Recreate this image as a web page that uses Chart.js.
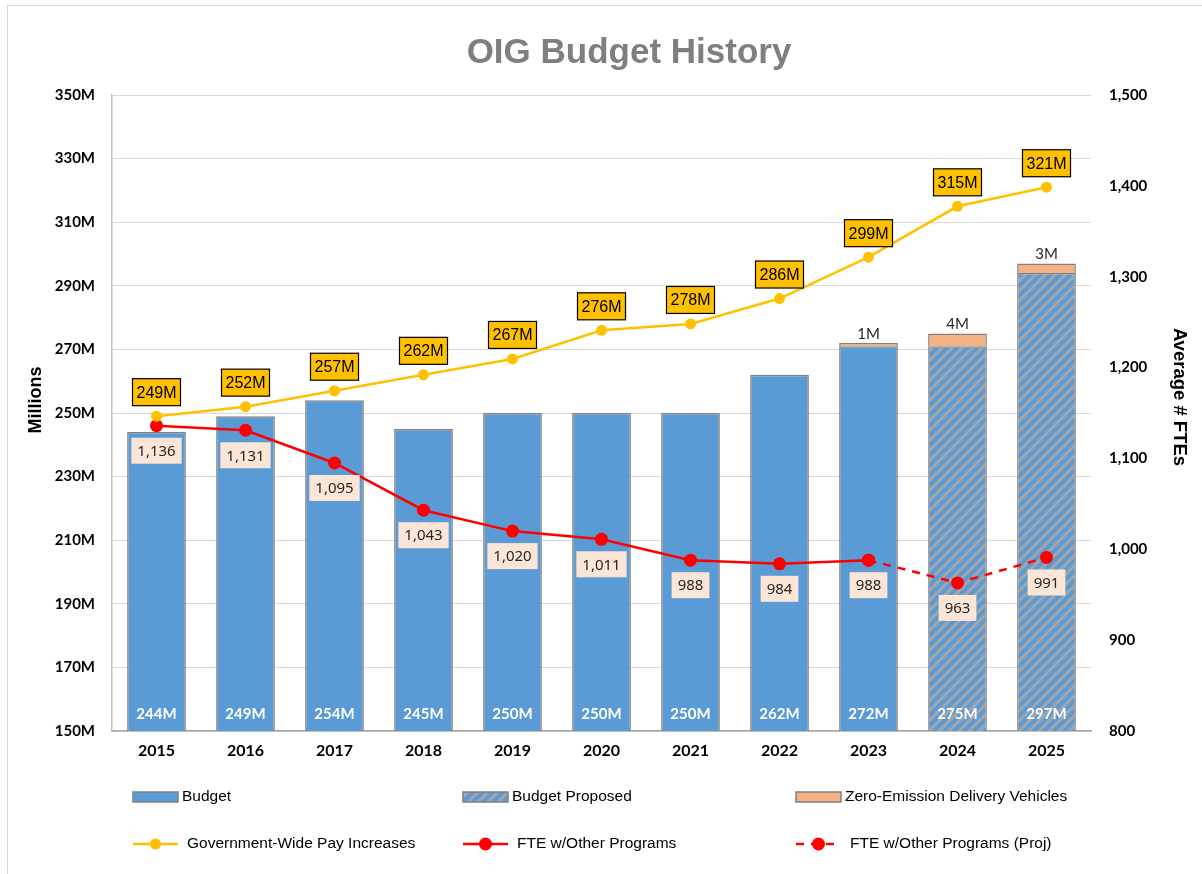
<!DOCTYPE html>
<html>
<head>
<meta charset="utf-8">
<script src="https://cdn.jsdelivr.net/npm/chart.js@4.4.1/dist/chart.umd.min.js"></script>
<style>
  html, body { margin: 0; padding: 0; background: #ffffff; }
  #wrap { position: relative; width: 1202px; height: 874px; }
  canvas { display: block; }
</style>
</head>
<body>
<div id="wrap"><canvas id="c" width="1202" height="874"></canvas></div>
<script>
// ---- Data ----
const chartTitle = 'OIG Budget History';
const categories = ['2015','2016','2017','2018','2019','2020','2021','2022','2023','2024','2025'];
const budget = [244, 249, 254, 245, 250, 250, 250, 262, 271, null, null];
const budgetProposed = [null, null, null, null, null, null, null, null, null, 271, 294];
const zeroEmission = [null, null, null, null, null, null, null, null, 1, 4, 3];
const payIncreases = [249, 252, 257, 262, 267, 276, 278, 286, 299, 315, 321];
const fteOther = [1136, 1131, 1095, 1043, 1020, 1011, 988, 984, 988, null, null];
const fteOtherProj = [null, null, null, null, null, null, null, null, 988, 963, 991];
const leftAxis = { min: 150, max: 350, step: 20, title: 'Millions' };
const rightAxis = { min: 800, max: 1500, step: 100, title: 'Average # FTEs' };

// ---- Styles ----
const BLUE = '#5B9BD5';
const BAR_BORDER = '#808080';
const GOLD = '#FFC000';
const RED = '#FF0000';
const PEACH = '#F4B183';
const LABEL_BG = '#FBE5D6';

function makeHatch() {
  const s = 10;
  const c = document.createElement('canvas');
  c.width = s; c.height = s;
  const g = c.getContext('2d');
  g.fillStyle = BLUE;
  g.fillRect(0, 0, s, s);
  g.strokeStyle = '#A5A5A5';
  g.lineWidth = 3;
  g.beginPath();
  g.moveTo(-2, s + 2); g.lineTo(s + 2, -2);
  g.moveTo(-2, 2); g.lineTo(2, -2);
  g.moveTo(s - 2, s + 2); g.lineTo(s + 2, s - 2);
  g.stroke();
  return document.getElementById('c').getContext('2d').createPattern(c, 'repeat');
}
const hatch = makeHatch();

const totals = categories.map((_, i) => (budget[i] || 0) + (budgetProposed[i] || 0) + (zeroEmission[i] || 0));

const labelPlugin = {
  id: 'labels',
  afterDatasetsDraw(chart) {
    const ctx = chart.ctx;
    const xs = chart.scales.x, ys = chart.scales.y, y1 = chart.scales.y1;
    ctx.save();
    ctx.textAlign = 'center';
    ctx.textBaseline = 'middle';
    // totals inside bar bottoms
    ctx.font = 'bold 15px Lato, "Noto Sans", sans-serif';
    ctx.fillStyle = '#ffffff';
    totals.forEach((t, i) => {
      ctx.fillText(t + 'M', xs.getPixelForValue(i), 714);
    });
    // zero-emission labels above stacks
    ctx.font = '15px Lato, "Noto Sans", sans-serif';
    ctx.fillStyle = '#262626';
    zeroEmission.forEach((v, i) => {
      if (v == null) return;
      const top = ys.getPixelForValue(totals[i]);
      ctx.fillText(v + 'M', xs.getPixelForValue(i), top - 9);
    });
    // pay increase labels
    ctx.font = '16px "Liberation Sans", Arial, sans-serif';
    payIncreases.forEach((v, i) => {
      const x = xs.getPixelForValue(i);
      const y = ys.getPixelForValue(v) - 24;
      const txt = v + 'M';
      const w = ctx.measureText(txt).width + 8;
      const h = 27;
      ctx.fillStyle = GOLD;
      ctx.fillRect(x - w / 2, y - h / 2, w, h);
      ctx.strokeStyle = '#000000';
      ctx.lineWidth = 1.2;
      ctx.strokeRect(x - w / 2, y - h / 2, w, h);
      ctx.fillStyle = '#000000';
      ctx.fillText(txt, x, y + 1);
    });
    // FTE labels
    ctx.font = '15px "Noto Sans", "Open Sans", sans-serif';
    const drawFte = (v, i) => {
      const x = xs.getPixelForValue(i);
      const y = y1.getPixelForValue(v) + 25;
      const txt = v.toLocaleString('en-US');
      const w = ctx.measureText(txt).width + 12;
      const h = 26;
      ctx.fillStyle = LABEL_BG;
      ctx.fillRect(x - w / 2, y - h / 2, w, h);
      ctx.fillStyle = '#262626';
      ctx.fillText(txt, x, y + 1);
    };
    fteOther.forEach((v, i) => { if (v != null) drawFte(v, i); });
    fteOtherProj.forEach((v, i) => { if (v != null && fteOther[i] == null) drawFte(v, i); });
    ctx.restore();
  },
  afterDraw(chart) {
    const ctx = chart.ctx;
    ctx.save();
    // outer frame
    ctx.strokeStyle = '#D9D9D9';
    ctx.lineWidth = 1;
    ctx.strokeRect(7.5, 5.5, 1300, 1000);
    // title
    ctx.textAlign = 'center';
    ctx.textBaseline = 'middle';
    ctx.fillStyle = '#7F7F7F';
    ctx.font = 'bold 35px "Liberation Sans", Arial, sans-serif';
    ctx.fillText(chartTitle, 629, 53);
    // axis titles
    ctx.fillStyle = '#000000';
    ctx.font = 'bold 18px "Liberation Sans", Arial, sans-serif';
    ctx.save();
    ctx.translate(36, 400);
    ctx.rotate(-Math.PI / 2);
    ctx.fillText(leftAxis.title, 0, 0);
    ctx.restore();
    ctx.save();
    ctx.translate(1179, 397);
    ctx.rotate(Math.PI / 2);
    ctx.font = 'bold 18.5px "Liberation Sans", Arial, sans-serif';
    ctx.fillText(rightAxis.title, 0, 0);
    ctx.restore();
    // legend
    const ds = chart.data.datasets;
    const cols = [133, 463, 796];
    const rows = [797, 844];
    const items = [
      { d: ds[2], kind: 'box', col: 0, row: 0 },
      { d: ds[3], kind: 'box', col: 1, row: 0 },
      { d: ds[4], kind: 'box', col: 2, row: 0 },
      { d: ds[0], kind: 'line', col: 0, row: 1 },
      { d: ds[1], kind: 'line', col: 1, row: 1 },
      { d: ds[5], kind: 'line', col: 2, row: 1 },
    ];
    ctx.textAlign = 'left';
    ctx.font = '15.5px "Liberation Sans Narrow", "Liberation Sans", Arial, sans-serif';
    items.forEach(it => {
      const x = cols[it.col], y = rows[it.row];
      if (it.kind === 'box') {
        ctx.fillStyle = it.d.backgroundColor;
        ctx.fillRect(x, y - 5, 45, 10);
        ctx.strokeStyle = BAR_BORDER;
        ctx.lineWidth = 1.5;
        ctx.strokeRect(x, y - 5, 45, 10);
        ctx.fillStyle = '#000000';
        ctx.fillText(it.d.label, x + 49, y);
      } else {
        ctx.strokeStyle = it.d.borderColor;
        ctx.lineWidth = 2.5;
        ctx.setLineDash(it.d.borderDash || []);
        ctx.beginPath();
        ctx.moveTo(x, y); ctx.lineTo(x + 45, y);
        ctx.stroke();
        ctx.setLineDash([]);
        ctx.fillStyle = it.d.pointBackgroundColor;
        ctx.beginPath();
        ctx.arc(x + 22.5, y, it.d.pointRadius, 0, Math.PI * 2);
        ctx.fill();
        ctx.fillStyle = '#000000';
        ctx.fillText(it.d.label, x + 54, y);
      }
    });
    ctx.restore();
  }
};

new Chart(document.getElementById('c'), {
  type: 'bar',
  data: {
    labels: categories,
    datasets: [
      { type: 'line', label: 'Government-Wide Pay Increases', data: payIncreases, yAxisID: 'y', stack: 'pay',
        borderColor: GOLD, backgroundColor: GOLD, borderWidth: 2.5, pointRadius: 5.5, pointBackgroundColor: GOLD,
        pointBorderWidth: 0, tension: 0, order: 0 },
      { type: 'line', label: 'FTE w/Other Programs', data: fteOther, yAxisID: 'y1',
        borderColor: RED, backgroundColor: RED, borderWidth: 2.5, pointRadius: 6.5, pointBackgroundColor: RED,
        pointBorderWidth: 0, tension: 0, order: 0 },
      { label: 'Budget', data: budget, yAxisID: 'y', stack: 'b', backgroundColor: BLUE,
        borderColor: BAR_BORDER, borderWidth: 1.5, order: 2 },
      { label: 'Budget Proposed', data: budgetProposed, yAxisID: 'y', stack: 'b', backgroundColor: hatch,
        borderColor: BAR_BORDER, borderWidth: 1.5, order: 2 },
      { label: 'Zero-Emission Delivery Vehicles', data: zeroEmission, yAxisID: 'y', stack: 'b', backgroundColor: PEACH,
        borderColor: BAR_BORDER, borderWidth: 1.5, order: 2 },
      { type: 'line', label: 'FTE w/Other Programs (Proj)', data: fteOtherProj, yAxisID: 'y1',
        borderColor: RED, backgroundColor: RED, borderWidth: 2.5, borderDash: [8, 7], pointRadius: 6.5,
        pointBackgroundColor: RED, pointBorderWidth: 0, tension: 0, order: 1 }
    ]
  },
  options: {
    responsive: false,
    animation: false,
    devicePixelRatio: 1,
    layout: { padding: { top: 95, left: 0, right: 0, bottom: 0 } },
    datasets: { bar: { barPercentage: 0.66, categoryPercentage: 1.0 } },
    plugins: { legend: { display: false }, title: { display: false }, tooltip: { enabled: false } },
    scales: {
      x: {
        stacked: true,
        grid: { display: false, drawTicks: false },
        border: { display: true, color: '#A6A6A6', width: 1.5 },
        ticks: { color: '#000000', padding: 10, font: { family: 'Lato, "Noto Sans", sans-serif', size: 16, weight: 'bold' } },
        afterFit(s) { s.height = 874 - 731; }
      },
      y: {
        position: 'left',
        stacked: true,
        min: leftAxis.min, max: leftAxis.max,
        grid: { color: '#D9D9D9', drawTicks: false, lineWidth: 1 },
        border: { display: true, color: '#BFBFBF', width: 1.5 },
        ticks: { stepSize: leftAxis.step, color: '#000000', padding: 17,
          font: { family: 'Lato, "Noto Sans", sans-serif', size: 15, weight: 'bold' },
          callback: v => v + 'M' },
        afterFit(s) { s.width = 112; }
      },
      y1: {
        position: 'right',
        min: rightAxis.min, max: rightAxis.max,
        grid: { display: false, drawTicks: false },
        border: { display: false },
        ticks: { stepSize: rightAxis.step, color: '#000000', padding: 18,
          font: { family: 'Lato, "Noto Sans", sans-serif', size: 15, weight: 'bold' },
          callback: v => v.toLocaleString('en-US') },
        afterFit(s) { s.width = 1202 - 1091; }
      }
    }
  },
  plugins: [labelPlugin]
});
</script>
</body>
</html>
